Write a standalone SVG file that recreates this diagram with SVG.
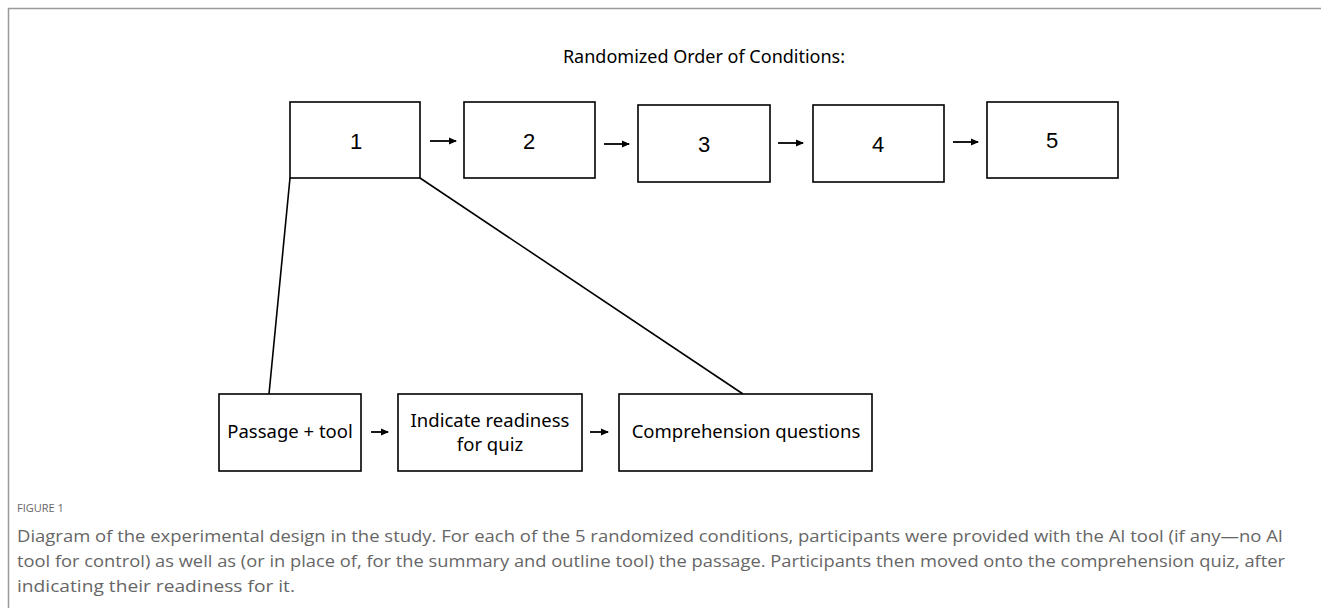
<svg xmlns="http://www.w3.org/2000/svg" width="1321" height="608" viewBox="0 0 1321 608">
<defs>
<marker id="ah" markerWidth="8" markerHeight="8" refX="7" refY="4" orient="auto" markerUnits="userSpaceOnUse">
<path d="M0,0.5 L8,4 L0,7.5 z" fill="#000"/>
</marker>
</defs>
<style>
.box{fill:#fff;stroke:#000;stroke-width:1.6}
.num{font-family:"Liberation Sans",Arial,sans-serif;font-size:22px;fill:#000;text-anchor:middle}
.lbl{font-family:"Noto Sans","Open Sans",sans-serif;font-size:18.5px;fill:#000;text-anchor:middle}
.arr{stroke:#000;stroke-width:1.8;fill:none;marker-end:url(#ah)}
.ln{stroke:#000;stroke-width:1.6;fill:none}
.cap{font-family:"Open Sans","Noto Sans",sans-serif;fill:#666}
</style>
<rect width="1321" height="608" fill="#fff"/>
<path d="M8.5,608 V8.5 H1321" fill="none" stroke="#9a9a9a" stroke-width="1.5"/>
<text x="704" y="63" font-family="Noto Sans, Open Sans, sans-serif" font-size="18" text-anchor="middle" fill="#000">Randomized Order of Conditions:</text>
<g id="connectors">
<line class="arr" x1="430" y1="141" x2="456" y2="141"/>
<line class="arr" x1="604" y1="144" x2="629" y2="144"/>
<line class="arr" x1="778" y1="143" x2="803" y2="143"/>
<line class="arr" x1="953" y1="142" x2="978" y2="142"/>
<line class="arr" x1="371" y1="432" x2="388" y2="432"/>
<line class="arr" x1="590" y1="432" x2="608" y2="432"/>
<line class="ln" x1="290" y1="178" x2="269" y2="394"/>
<line class="ln" x1="420" y1="178" x2="743" y2="394"/>
</g>
<g id="n1"><rect class="box" x="290" y="102" width="130" height="76"/><text class="num" x="356" y="149">1</text></g>
<g id="n2"><rect class="box" x="464" y="102" width="131" height="76"/><text class="num" x="529" y="149">2</text></g>
<g id="n3"><rect class="box" x="638" y="105" width="132" height="77"/><text class="num" x="704" y="152">3</text></g>
<g id="n4"><rect class="box" x="813" y="105" width="131" height="77"/><text class="num" x="878" y="152">4</text></g>
<g id="n5"><rect class="box" x="987" y="102" width="131" height="76"/><text class="num" x="1052" y="148">5</text></g>
<g id="nA"><rect class="box" x="219" y="394" width="142" height="77"/><text class="lbl" x="290" y="438">Passage + tool</text></g>
<g id="nB"><rect class="box" x="398" y="394" width="184" height="77"/><text class="lbl" x="490" y="427">Indicate readiness</text><text class="lbl" x="490" y="451">for quiz</text></g>
<g id="nC"><rect class="box" x="619" y="394" width="253" height="77"/><text class="lbl" x="746" y="438">Comprehension questions</text></g>
<text class="cap" x="17" y="512" font-size="11">FIGURE 1</text>
<text class="cap" x="17" y="542" font-size="15.5" textLength="1266" lengthAdjust="spacingAndGlyphs">Diagram of the experimental design in the study. For each of the 5 randomized conditions, participants were provided with the AI tool (if any—no AI</text>
<text class="cap" x="17" y="567" font-size="15.5" textLength="1268" lengthAdjust="spacingAndGlyphs">tool for control) as well as (or in place of, for the summary and outline tool) the passage. Participants then moved onto the comprehension quiz, after</text>
<text class="cap" x="17" y="592" font-size="15.5" textLength="278" lengthAdjust="spacingAndGlyphs">indicating their readiness for it.</text>
</svg>
